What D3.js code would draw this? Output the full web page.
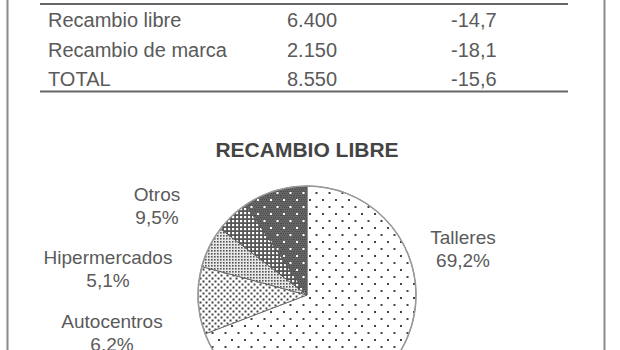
<!DOCTYPE html>
<html><head><meta charset="utf-8">
<script src="https://cdn.jsdelivr.net/npm/d3@7"></script>
<style>html,body{margin:0;padding:0;background:#fff;}svg{display:block;font-family:"Liberation Sans",Arial,sans-serif;}</style>
</head><body>
<svg id="c" width="620" height="350"></svg>
<script>
// ---- data ----
const tableRows = ["Recambio libre", "Recambio de marca", "TOTAL"];
const tableValues = ["6.400", "2.150", "8.550"];
const tableChange = ["-14,7", "-18,1", "-15,6"];
const chartTitle = "RECAMBIO LIBRE";
const sliceNames = ["Talleres", "Gasolineras", "Autocentros", "Hipermercados", "Otros"];
const sliceValues = [69.2, 10.0, 6.2, 5.1, 9.5];
const sliceLabels = ["69,2%", "10,0%", "6,2%", "5,1%", "9,5%"];

// ---- layout (not data) ----
const W = 620, H = 350;
const labelPos = [[463, 244], [112, 392], [112, 328], [108, 264], [157, 201]];
const patternIds = ["pTall", "pGas", "pAuto", "pHiper", "pOtros"];
const txt = "#5a5a5a";

const svg = d3.select("#c");
const defs = svg.append("defs");

// patterns
function pat(id, w, h) {
  return defs.append("pattern").attr("id", id).attr("patternUnits", "userSpaceOnUse")
    .attr("width", w).attr("height", h);
}
let p = pat("pTall", 13, 14);
p.append("rect").attr("width", 13).attr("height", 14).attr("fill", "#fff");
[[3, 3], [9.5, 10]].forEach(([x, y]) => p.append("rect").attr("x", x - 1).attr("y", y - 1).attr("width", 2).attr("height", 2).attr("fill", "#444"));

p = pat("pGas", 6, 6);
p.append("rect").attr("width", 6).attr("height", 6).attr("fill", "#fff");
[[1.5, 1.5], [4.5, 4.5]].forEach(([x, y]) => p.append("rect").attr("x", x - 1).attr("y", y - 1).attr("width", 2).attr("height", 2).attr("fill", "#444"));

p = pat("pAuto", 3, 3);
p.append("rect").attr("width", 3).attr("height", 3).attr("fill", "#e8e8e8");
p.append("rect").attr("width", 1.6).attr("height", 1.6).attr("fill", "#555");

p = pat("pHiper", 4, 4);
p.append("rect").attr("width", 4).attr("height", 4).attr("fill", "#555");
p.append("rect").attr("x", 1).attr("y", 1).attr("width", 2.2).attr("height", 2.2).attr("fill", "#fff");

p = pat("pOtros", 13, 14);
p.append("rect").attr("width", 13).attr("height", 14).attr("fill", "#666");
for (let i = 0; i < 13; i += 2) for (let j = 0; j < 14; j += 2)
  p.append("rect").attr("x", i + ((j / 2) % 2)).attr("y", j).attr("width", 1).attr("height", 1).attr("fill", "#4a4a4a");
[[3, 3], [9.5, 10]].forEach(([x, y]) => p.append("rect").attr("x", x - 1).attr("y", y - 1).attr("width", 2).attr("height", 2).attr("fill", "#fff"));

// frame
svg.append("line").attr("x1", 7.5).attr("x2", 7.5).attr("y1", 0).attr("y2", H).attr("stroke", "#8a8a8a").attr("stroke-width", 2);
svg.append("line").attr("x1", 604.5).attr("x2", 604.5).attr("y1", 0).attr("y2", H).attr("stroke", "#8a8a8a").attr("stroke-width", 2);

// table
const rowY = d3.scalePoint().domain(tableRows).range([27, 86]);
svg.append("line").attr("x1", 40).attr("x2", 568).attr("y1", 4).attr("y2", 4).attr("stroke", "#666").attr("stroke-width", 2);
svg.append("line").attr("x1", 40).attr("x2", 568).attr("y1", 91.5).attr("y2", 91.5).attr("stroke", "#666").attr("stroke-width", 2);
const tg = svg.append("g").attr("font-size", 20).attr("fill", txt);
tableRows.forEach((r, i) => {
  const y = rowY(r);
  tg.append("text").attr("x", 48).attr("y", y).text(r);
  tg.append("text").attr("x", 287).attr("y", y).text(tableValues[i]);
  tg.append("text").attr("x", 451).attr("y", y).text(tableChange[i]);
});

// title
svg.append("text").attr("x", 307).attr("y", 157).attr("text-anchor", "middle")
  .attr("font-size", 21).attr("font-weight", "bold").attr("fill", "#444").text(chartTitle);

// pie
const cx = 307, cy = 295, R = 109;
const pie = d3.pie().sort(null).value(d => d)(sliceValues);
const arc = d3.arc().innerRadius(0).outerRadius(R);
const g = svg.append("g").attr("transform", `translate(${cx},${cy})`);
g.selectAll("path.s").data(pie).join("path").attr("class", "s")
  .attr("d", arc).attr("fill", (d, i) => `url(#${patternIds[i]})`)
  .attr("stroke", "#555").attr("stroke-width", 0.8);
g.append("circle").attr("r", R).attr("fill", "none").attr("stroke", "#999").attr("stroke-width", 1.5);

// labels
const lg = svg.append("g").attr("font-size", 19).attr("fill", txt).attr("text-anchor", "middle");
sliceNames.forEach((n, i) => {
  const [x, y] = labelPos[i];
  if (y - 19 > H) return;
  lg.append("text").attr("x", x).attr("y", y).text(n);
  lg.append("text").attr("x", x).attr("y", y + 23).text(sliceLabels[i]);
});
</script>
</body></html>
